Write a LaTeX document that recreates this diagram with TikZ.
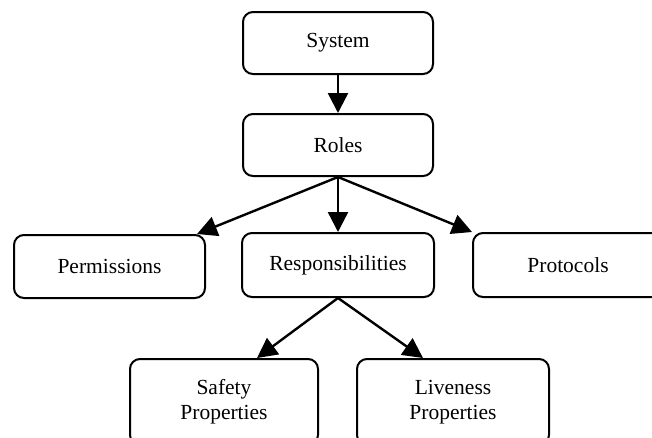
\documentclass[tikz,border=0pt]{standalone}
\usepackage{fontspec}
\setmainfont{Liberation Serif}
\usetikzlibrary{arrows.meta,calc}
\begin{document}
\begin{tikzpicture}[x=1pt,y=-1pt,
  box/.style={draw, line width=2pt, rounded corners=10pt, align=center,
    inner sep=0pt, font=\fontsize{21.5}{25}\selectfont},
  conn/.style={line width=2.4pt, -{Triangle[length=20pt,width=20pt]}}]
\useasboundingbox (0,0) rectangle (652,437);
\clip (0,0) rectangle (652,437);
\node[box, minimum width=190pt, minimum height=62pt] (sys) at (338,43) {System};
\node[box, minimum width=190pt, minimum height=62pt] (roles) at (338,145) {Roles};
\node[box, minimum width=191pt, minimum height=63pt] (perm) at (109.5,266.5) {Permissions};
\node[box, minimum width=192pt, minimum height=64pt] (resp) at (338,265) {Responsibilities};
\node[box, minimum width=190pt, minimum height=64pt] (prot) at (568,265) {Protocols};
\node[box, minimum width=188pt, minimum height=86pt] (safe) at (224,402) {Safety\\Properties};
\node[box, minimum width=192pt, minimum height=86pt] (live) at (453,402) {Liveness\\Properties};
\draw[conn] (sys.south) -- (roles.north);
\draw[conn] (roles.south) -- ($(perm.north east)+(-9,0)$);
\draw[conn] (roles.south) -- (resp.north);
\draw[conn] (roles.south) -- (prot.north west);
\draw[conn] (resp.south) -- ($(safe.north)+(33,0)$);
\draw[conn] (resp.south) -- ($(live.north)+(-30,0)$);
\end{tikzpicture}
\end{document}
